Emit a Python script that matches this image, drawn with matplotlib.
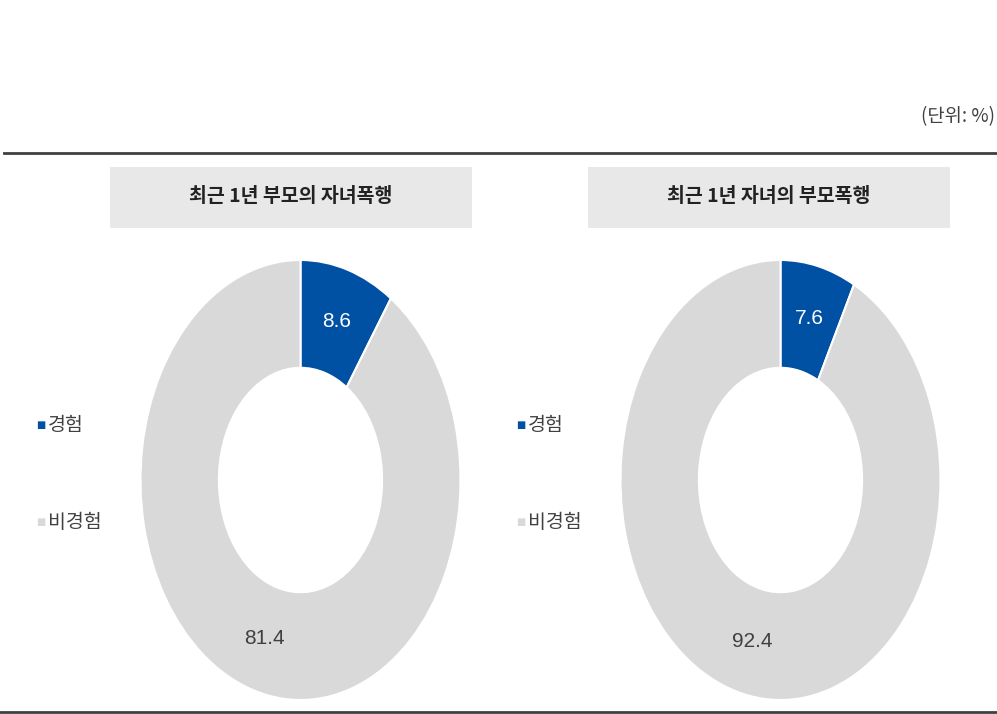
import matplotlib.pyplot as plt
from matplotlib.patches import Rectangle

plt.rcParams['font.family'] = ['Noto Sans CJK KR', 'DejaVu Sans']

titles = ['최근 1년 부모의 자녀폭행', '최근 1년 자녀의 부모폭행']
categories = ['경험', '비경험']
parent_to_child = [8.6, 81.4]
child_to_parent = [7.6, 92.4]
unit_label = '(단위: %)'

colors = ['#0050A3', '#D9D9D9']
W, H = 997, 714

fig = plt.figure(figsize=(W / 100, H / 100), dpi=100)


def px(x0, y0, w, h):
    # pixel box (top-left origin) -> figure fraction rect
    return [x0 / W, 1 - (y0 + h) / H, w / W, h / H]


# horizontal rules, unit note
fig.add_artist(plt.Line2D([4 / W, 1], [1 - 153 / H] * 2, color='#404040', lw=2))
fig.add_artist(plt.Line2D([0, 1], [1 - 712 / H] * 2, color='#404040', lw=2))
fig.text(995 / W, 1 - 117 / H, unit_label, ha='right', va='center',
         fontsize=13.5, color='#404040')

panels = [(titles[0], parent_to_child, 110, 140.5, 36),
          (titles[1], child_to_parent, 588, 620.5, 516)]

for title, vals, box_x, pie_x, leg_x in panels:
    # grey title banner
    fig.add_artist(Rectangle((box_x / W, 1 - 228 / H), 362 / W, 61 / H,
                             transform=fig.transFigure, facecolor='#E8E8E8',
                             edgecolor='none'))
    fig.text((box_x + 181) / W, 1 - 196 / H, title, ha='center', va='center',
             fontsize=14, fontweight='bold', color='#222222')

    ax = fig.add_axes(px(pie_x, 260, 320, 440))
    total = sum(vals)
    wedges, texts, autotexts = ax.pie(
        vals, colors=colors, startangle=90, counterclock=False, radius=1,
        wedgeprops=dict(width=0.49, edgecolor='white', linewidth=1.5),
        autopct=lambda p: f'{p * total / 100:.1f}', pctdistance=0.755,
        textprops=dict(fontsize=15, family=['Liberation Sans', 'DejaVu Sans']))
    autotexts[0].set_color('white')
    autotexts[1].set_color('#404040')
    ax.set_aspect('auto')
    ax.set_xlim(-1, 1)
    ax.set_ylim(-1, 1)
    ax.axis('off')

    # legend items
    for i, (name, c) in enumerate(zip(categories, colors)):
        y = 1 - (425 + i * 97) / H
        fig.text(leg_x / W, y, '■', color=c, fontsize=7, ha='left', va='center',
                 family=['DejaVu Sans'])
        fig.text((leg_x + 12) / W, y, name, color='#404040', fontsize=14,
                 ha='left', va='center')

fig.savefig('out.png', dpi=100)
